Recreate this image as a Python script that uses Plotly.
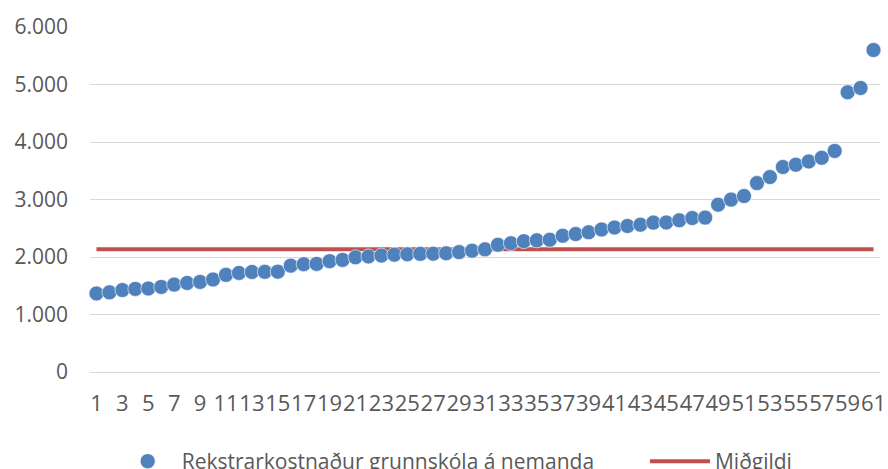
import plotly.graph_objects as go

# Data
positions = list(range(1, 62))
cost_per_student = [
    1366, 1385, 1425, 1445, 1452, 1480, 1520, 1549, 1567, 1608,
    1690, 1723, 1740, 1742, 1745, 1850, 1875, 1880, 1928, 1950,
    1995, 2010, 2025, 2040, 2047, 2055, 2058, 2065, 2085, 2110,
    2133, 2212, 2240, 2275, 2290, 2300, 2370, 2400, 2430, 2478,
    2512, 2540, 2562, 2598, 2600, 2638, 2678, 2685, 2910, 2998,
    3060, 3285, 3390, 3565, 3605, 3662, 3725, 3845, 4865, 4940,
    5600,
]
median_value = sorted(cost_per_student)[len(cost_per_student) // 2]
median_series = [median_value] * len(positions)
x_tick_vals = list(range(1, 62, 2))
x_tick_text = [str(v) for v in x_tick_vals]
y_tick_vals = [0, 1000, 2000, 3000, 4000, 5000, 6000]

FONT = "Open Sans"
TXT = "#595959"

fig = go.Figure()
fig.add_trace(go.Scatter(
    x=positions, y=median_series, mode="lines", name="Miðgildi",
    line=dict(color="#C0504D", width=4), legend="legend2",
))
fig.add_trace(go.Scatter(
    x=positions, y=cost_per_student, mode="markers",
    name="Rekstrarkostnaður grunnskóla á nemanda",
    marker=dict(color="#4F81BD", size=15,
                line=dict(color="rgba(255,255,255,0.6)", width=1)),
    cliponaxis=False, legend="legend",
))

legend_common = dict(orientation="h", yanchor="top", y=-0.2, xanchor="left",
                     font=dict(family=FONT, size=21, color=TXT),
                     bgcolor="rgba(0,0,0,0)")

fig.update_layout(
    width=888, height=469,
    margin=dict(l=90, r=8, t=27, b=97, autoexpand=False),
    paper_bgcolor="white", plot_bgcolor="white",
    separators=",.",
    font=dict(family=FONT, size=21, color=TXT),
    showlegend=True,
    legend=dict(x=0.030, itemwidth=58, **legend_common),
    legend2=dict(x=0.7025, itemwidth=60, **legend_common),
    xaxis=dict(range=[0.5, 61.5], tickmode="array", tickvals=x_tick_vals,
               ticktext=x_tick_text, tickangle=0, showgrid=False, zeroline=False,
               showline=False, ticks="", ticklabelstandoff=16, automargin=False,
               tickfont=dict(family=FONT, size=22, color=TXT)),
    yaxis=dict(range=[0, 6000], tickmode="array", tickvals=y_tick_vals,
               tickformat=",.0f", showgrid=True, gridcolor="#D9D9D9", gridwidth=1,
               zeroline=True, zerolinecolor="#D9D9D9", zerolinewidth=1,
               showline=False, ticks="", ticklabelstandoff=21, automargin=False,
               tickfont=dict(family=FONT, size=21, color=TXT)),
)

fig.write_html("out.html",
               config={"displayModeBar": False},
               post_script="document.body.style.margin='0';document.body.style.overflow='hidden';")
